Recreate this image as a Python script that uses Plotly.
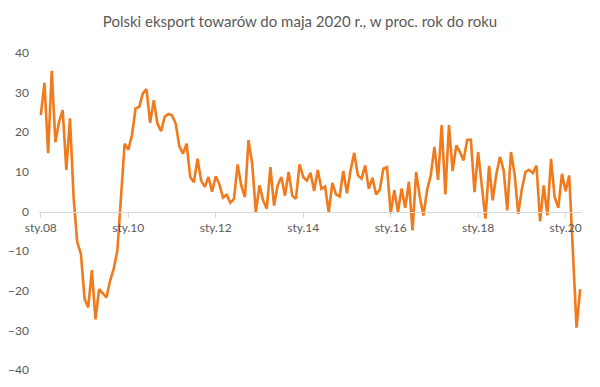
import plotly.graph_objects as go

# Monthly y/y growth of Polish goods exports, Jan 2008 - May 2020 (%)
values = [
    24.3, 32.5, 14.7, 35.5, 17.5, 22.6, 25.6, 10.5, 23.5, 3.5, -7.8, -10.7,      # 2008
    -22.0, -24.2, -14.8, -27.2, -19.6, -20.7, -21.7, -17.5, -14.5, -9.9, 2.8, 17.1,  # 2009
    15.6, 19.2, 26.0, 26.4, 29.8, 30.9, 22.4, 28.1, 22.2, 20.3, 23.9, 24.6,      # 2010
    24.3, 22.2, 16.5, 14.6, 17.1, 8.7, 7.4, 13.3, 7.8, 6.2, 8.7, 5.0,            # 2011
    8.9, 6.8, 3.5, 4.2, 2.2, 3.2, 11.9, 6.6, 3.6, 18.0, 12.1, -0.2,              # 2012
    6.6, 2.8, 0.7, 11.2, 1.5, 6.6, 8.7, 4.0, 10.0, 4.0, 3.2, 11.9,               # 2013
    8.7, 7.8, 9.8, 5.2, 10.5, 5.7, 6.3, -0.2, 7.2, 4.3, 3.8, 10.2,               # 2014
    4.6, 10.4, 14.8, 9.1, 8.3, 11.6, 5.7, 8.5, 4.3, 5.5, 10.8, 11.2,             # 2015
    -0.5, 5.4, -0.2, 5.8, 0.9, 7.5, -4.8, 10.0, 3.6, -1.0, 5.5, 9.1,             # 2016
    16.3, 8.0, 21.8, 4.3, 21.8, 10.2, 16.7, 15.0, 12.9, 18.1, 18.1, 4.9,         # 2017
    15.0, 7.1, -1.8, 11.5, 2.8, 9.5, 13.8, 10.4, 0.3, 15.0, 9.5, -0.6,           # 2018
    5.7, 10.0, 10.5, 9.7, 11.6, -2.5, 6.6, -1.0, 13.3, 3.6, 0.9, 9.5,            # 2019
    5.1, 9.1, -10.0, -29.3, -19.6,                                               # 2020
]
month_index = list(range(len(values)))
tick_positions = [0, 24, 48, 72, 96, 120, 144]
tick_labels = ["sty.08", "sty.10", "sty.12", "sty.14", "sty.16", "sty.18", "sty.20"]
y_ticks = [-40, -30, -20, -10, 0, 10, 20, 30, 40]

font_family = "Lato"
text_color = "#595959"

fig = go.Figure()
fig.add_trace(go.Scatter(
    x=month_index, y=values, mode="lines",
    line=dict(color="#F07A1C", width=2.6),
    hoverinfo="skip", showlegend=False,
))

fig.update_layout(
    width=600, height=387,
    margin=dict(l=39, r=18, t=53, b=17, autoexpand=False),
    paper_bgcolor="white", plot_bgcolor="white",
    font=dict(family=font_family, color=text_color, size=12),
    title=dict(text="Polski eksport towarów do maja 2020 r., w proc. rok do roku",
               x=0.5, xanchor="center", y=1 - 22 / 387, yanchor="middle",
               font=dict(family=font_family, size=15, color=text_color)),
    xaxis=dict(
        range=[-0.5, len(values) - 0.5],
        tickmode="array", tickvals=tick_positions, ticktext=tick_labels,
        showgrid=False, zeroline=False,
        showline=True, linecolor="#D9D9D9", linewidth=1.3,
        ticks="outside", ticklen=5, tickcolor="#D9D9D9", tickwidth=1,
        anchor="free", position=0.5, automargin=False,
        tickfont=dict(size=12, color=text_color),
    ),
    yaxis=dict(
        range=[-40, 40],
        tickmode="array", tickvals=y_ticks,
        showgrid=False, zeroline=False, showline=False,
        ticks="", ticklabelstandoff=9, automargin=False,
        tickfont=dict(size=12, color=text_color),
    ),
)

fig.write_html("out.html", config={"displayModeBar": False},
               post_script="document.body.style.margin='0';")
